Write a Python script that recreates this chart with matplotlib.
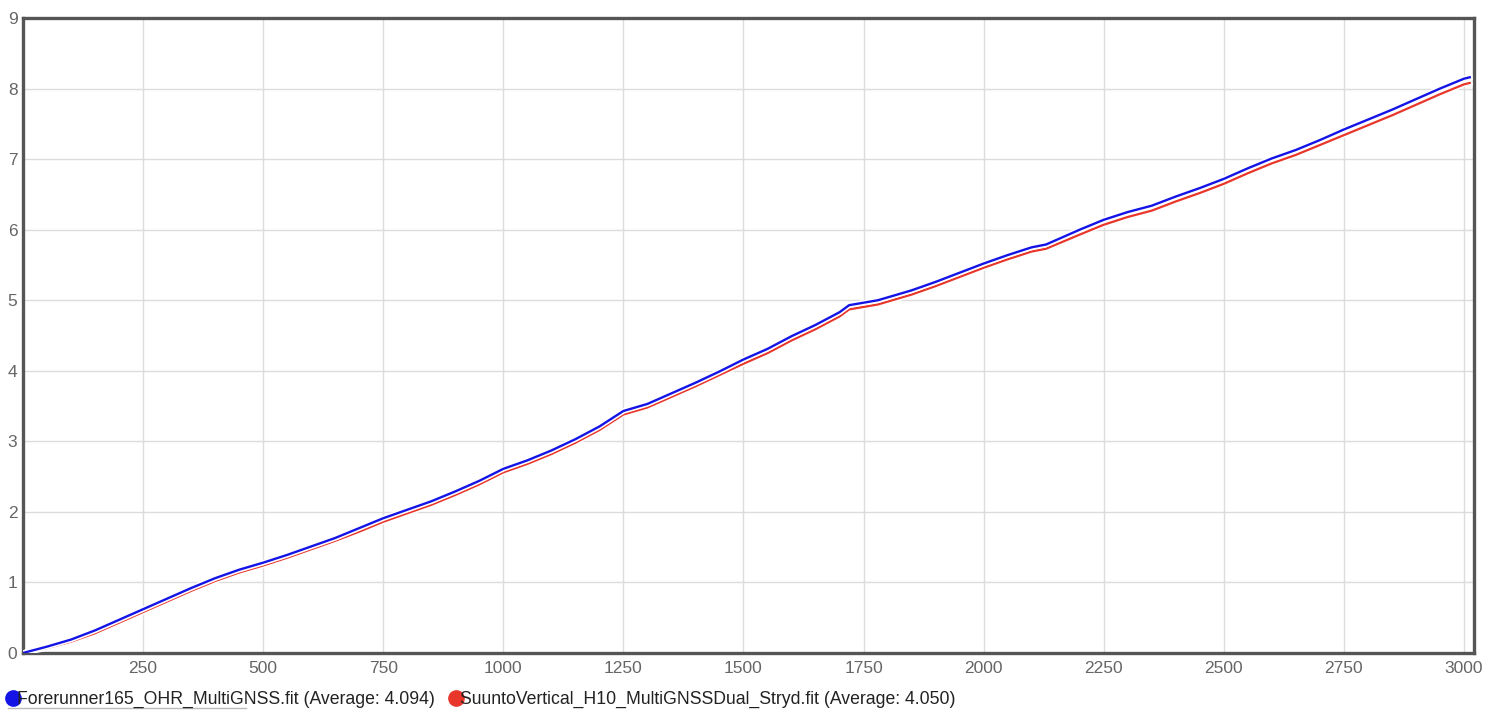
import matplotlib; matplotlib.use("Agg")
import matplotlib.pyplot as plt
import matplotlib.patheffects as pe
from matplotlib.lines import Line2D

plt.rcParams['font.family'] = ['Liberation Sans', 'DejaVu Sans']

# elapsed time vs cumulative distance
t = [0, 50, 100, 150, 200, 250, 300, 350, 400, 450, 500, 550, 600, 650, 700,
     750, 800, 850, 900, 950, 1000, 1050, 1100, 1150, 1200, 1250, 1300, 1350,
     1400, 1450, 1500, 1550, 1600, 1650, 1700, 1720, 1780, 1850, 1900, 1950,
     2000, 2050, 2100, 2130, 2200, 2250, 2300, 2350, 2400, 2450, 2500, 2550,
     2600, 2650, 2700, 2750, 2800, 2850, 2900, 2950, 3000, 3012]
forerunner = [0.00, 0.09, 0.19, 0.32, 0.47, 0.62, 0.77, 0.92, 1.06, 1.18, 1.28,
              1.39, 1.51, 1.63, 1.77, 1.91, 2.03, 2.15, 2.29, 2.44, 2.61, 2.73,
              2.87, 3.03, 3.21, 3.43, 3.53, 3.68, 3.83, 3.99, 4.16, 4.31, 4.49,
              4.65, 4.83, 4.93, 5.00, 5.14, 5.26, 5.39, 5.52, 5.64, 5.75, 5.79,
              6.00, 6.14, 6.25, 6.34, 6.47, 6.59, 6.72, 6.87, 7.01, 7.13, 7.27,
              7.42, 7.56, 7.70, 7.85, 8.00, 8.14, 8.16]
suunto = [0.00, 0.07, 0.16, 0.28, 0.43, 0.58, 0.73, 0.88, 1.02, 1.14, 1.24,
          1.35, 1.47, 1.59, 1.72, 1.86, 1.98, 2.10, 2.24, 2.39, 2.56, 2.68,
          2.82, 2.98, 3.16, 3.38, 3.48, 3.63, 3.78, 3.94, 4.10, 4.25, 4.43,
          4.59, 4.77, 4.87, 4.94, 5.08, 5.20, 5.33, 5.46, 5.58, 5.69, 5.73,
          5.93, 6.07, 6.18, 6.27, 6.40, 6.52, 6.65, 6.80, 6.94, 7.06, 7.20,
          7.34, 7.48, 7.62, 7.77, 7.92, 8.06, 8.08]
labels = ['Forerunner165_OHR_MultiGNSS.fit (Average: 4.094)',
          'SuuntoVertical_H10_MultiGNSSDual_Stryd.fit (Average: 4.050)']
xticks = [250, 500, 750, 1000, 1250, 1500, 1750, 2000, 2250, 2500, 2750, 3000]
yticks = list(range(0, 10))

BLUE, RED = '#1414e6', '#e8372a'

fig = plt.figure(figsize=(15, 7.1), dpi=100)
ax = fig.add_axes([0.0153, 0.0803, 0.9674, 0.8943])

halo = [pe.Stroke(linewidth=4.0, foreground='white'), pe.Normal()]
ax.plot(t, suunto, color=RED, lw=1.6, path_effects=halo, zorder=3)
ax.plot(t, forerunner, color=BLUE, lw=1.7, path_effects=halo, zorder=4)

ax.set_xlim(0, 3021)
ax.set_ylim(0, 9)
ax.set_xticks(xticks)
ax.set_yticks(yticks)
ax.grid(True, color='#dcdcdc', lw=1)
ax.set_axisbelow(True)
ax.tick_params(length=0, labelsize=12.5, labelcolor='#666666', pad=6)
ax.tick_params(axis='y', pad=4)
for s in ax.spines.values():
    s.set_color('#555555')
    s.set_linewidth(2.4)

handles = [Line2D([], [], marker='o', ls='none', color=BLUE, ms=11),
           Line2D([], [], marker='o', ls='none', color=RED, ms=11)]
fig.legend(handles, labels, loc='lower left', bbox_to_anchor=(-0.009, -0.02),
           ncol=2, frameon=False, fontsize=12.7, handletextpad=-0.35,
           columnspacing=0.55, handlelength=1.2, labelcolor='#222222')
fig.add_artist(Line2D([0.005, 0.164], [0.003, 0.003], color='#bbbbbb', lw=1))

fig.savefig('out.png', dpi=100)
